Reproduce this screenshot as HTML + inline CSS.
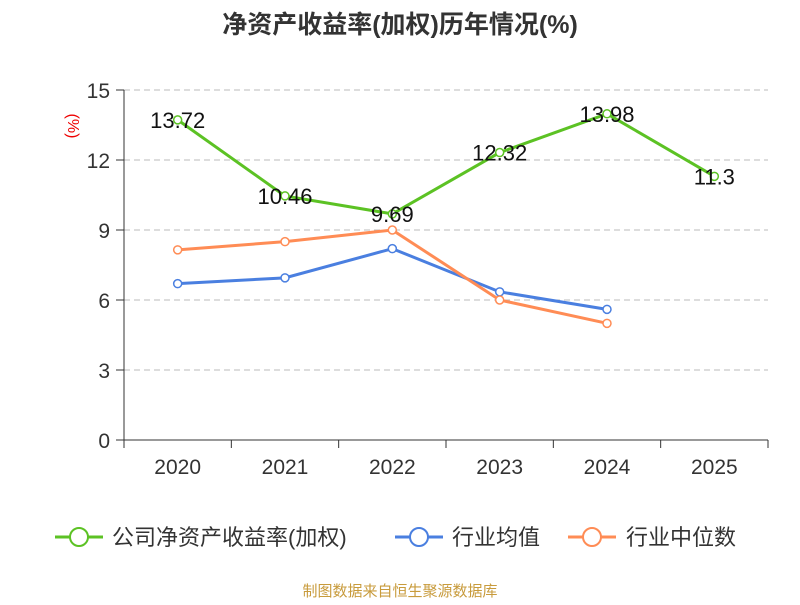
<!DOCTYPE html>
<html><head><meta charset="utf-8"><style>
body{margin:0;background:#fff;}
svg text{font-family:"Liberation Sans","Noto Sans CJK SC",sans-serif;}
</style></head><body>
<svg width="800" height="600" id="chart">
<text x="400" y="33" text-anchor="middle" font-size="25" font-weight="bold" fill="#333">净资产收益率(加权)历年情况(%)</text>
<text x="68" y="126" text-anchor="middle" font-size="16" fill="#e00" transform="rotate(90 68 126)">(%)</text>
<g id="grid"></g><g id="axes"></g><g id="series"></g>
<g>
<g><line x1="55" y1="537" x2="103" y2="537" stroke="#5cc224" stroke-width="3"/><circle cx="79" cy="537" r="9" fill="#fff" stroke="#5cc224" stroke-width="2"/><text x="112" y="545" font-size="22" fill="#333">公司净资产收益率(加权)</text></g>
<g><line x1="395" y1="537" x2="443" y2="537" stroke="#4a7fe0" stroke-width="3"/><circle cx="419" cy="537" r="9" fill="#fff" stroke="#4a7fe0" stroke-width="2"/><text x="452" y="545" font-size="22" fill="#333">行业均值</text></g>
<g><line x1="568" y1="537" x2="616" y2="537" stroke="#ff8c55" stroke-width="3"/><circle cx="592" cy="537" r="9" fill="#fff" stroke="#ff8c55" stroke-width="2"/><text x="626" y="545" font-size="22" fill="#333">行业中位数</text></g>
</g>
<text x="400" y="596" text-anchor="middle" font-size="15" fill="#c89b3c">制图数据来自恒生聚源数据库</text>
</svg>
<script>
const categories=["2020","2021","2022","2023","2024","2025"];
const companyValues=[13.72,10.46,9.69,12.32,13.98,11.3];
const companyLabels=["13.72","10.46","9.69","12.32","13.98","11.3"];
const avgValues=[6.7,6.95,8.2,6.35,5.6];
const medianValues=[8.15,8.5,9.0,6.0,5.0];
const yTicks=[0,3,6,9,12,15];
const NS="http://www.w3.org/2000/svg";
const x0=124,x1=768,y0=440,y1=90,yMax=15;
const bw=(x1-x0)/categories.length;
const X=i=>x0+bw*(i+0.5);
const Y=v=>y0-(v/yMax)*(y0-y1);
function mk(tag,attrs,parent){const e=document.createElementNS(NS,tag);for(const k in attrs)e.setAttribute(k,attrs[k]);parent.appendChild(e);return e;}
const grid=document.getElementById('grid'),axes=document.getElementById('axes'),ser=document.getElementById('series');
yTicks.forEach(t=>{
 if(t>0){const l=mk('line',{x1:x0,x2:x1,y1:Y(t),y2:Y(t),stroke:'#bbb','stroke-dasharray':'6,4'},grid);
 
 }
 const tk=mk('line',{x1:x0-8,x2:x0,y1:Y(t),y2:Y(t),stroke:'#333'},axes);
 
 
 const tx=mk('text',{x:x0-14,y:Y(t)+8,'text-anchor':'end','font-size':21,fill:'#333'},axes);tx.textContent=t;
 
 
});
const ya=mk('line',{x1:x0,x2:x0,y1:y1,y2:y0,stroke:'#333'},axes);


const xa=mk('line',{x1:x0,x2:x1,y1:y0,y2:y0,stroke:'#333'},axes);


for(let i=0;i<=categories.length;i++){const t=mk('line',{x1:x0+bw*i,x2:x0+bw*i,y1:y0,y2:y0+8,stroke:'#333'},axes);
 
 }
categories.forEach((c,i)=>{const t=mk('text',{x:X(i),y:474,'text-anchor':'middle','font-size':21,fill:'#333'},axes);t.textContent=c;
 
 });
function drawSeries(vals,color,name,labels){
 const pts=vals.map((v,i)=>X(i)+','+Y(v)).join(' ');
 const pl=mk('polyline',{points:pts,fill:'none',stroke:color,'stroke-width':3},ser);
 
 
 vals.forEach((v,i)=>{const c=mk('circle',{cx:X(i),cy:Y(v),r:4,fill:'#fff',stroke:color,'stroke-width':1.5},ser);
  
  
  if(labels){const t=mk('text',{x:X(i),y:Y(v)+8,'text-anchor':'middle','font-size':22,fill:'#111'},ser);t.textContent=labels[i];
  
  }
 });
}
drawSeries(avgValues,'#4a7fe0','industry-avg');
drawSeries(medianValues,'#ff8c55','industry-median');
drawSeries(companyValues,'#5cc224','company-roe',companyLabels);
</script>
</body></html>
